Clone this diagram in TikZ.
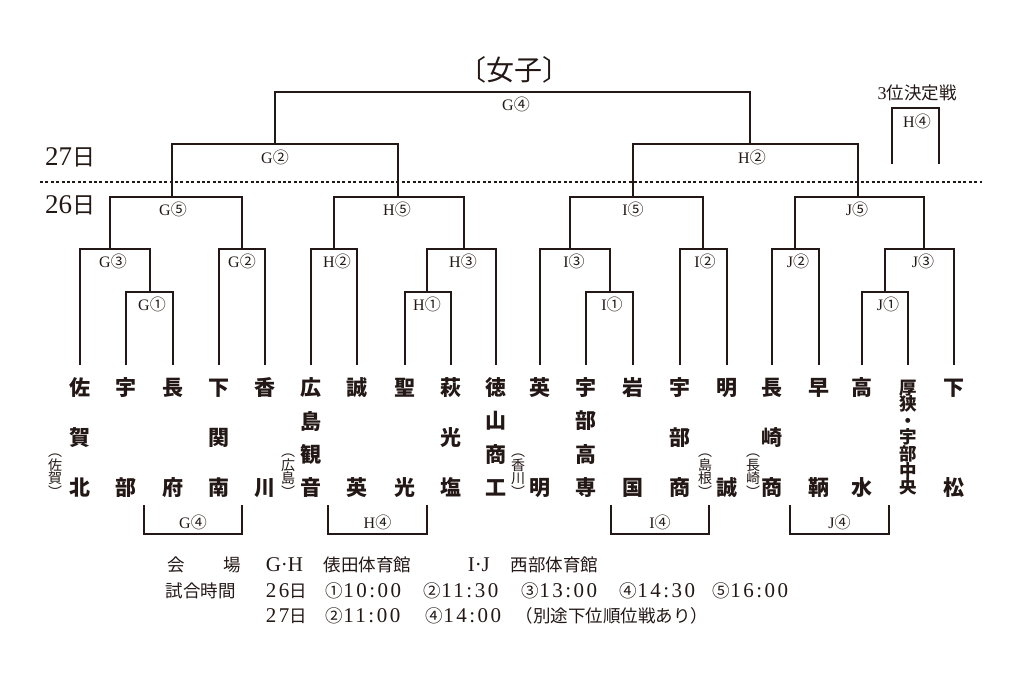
\documentclass[tikz,border=0pt]{standalone}
\usepackage{fontspec}
\setmainfont{Liberation Serif}
\newfontfamily\jp{Noto Sans CJK JP}
\newfontfamily\infofont{Liberation Serif}[LetterSpace=12]
\definecolor{ink}{HTML}{231815}
\newcommand\tchar[1]{\hbox to 24pt{\hss\vrule height 17.6pt depth 2.4pt width 0pt\relax#1\hss}}
\newcommand\schar[1]{\hbox to 20pt{\hss\vrule height 14.5pt depth 1.5pt width 0pt\relax#1\hss}}
\newcommand\achar[1]{\hbox to 16pt{\hss\vrule height 11.8pt depth 1.7pt width 0pt\relax#1\hss}}
\newcommand\cn[1]{{\jp\fontsize{17.5}{17.5}\selectfont #1}}
\newcommand\cl[1]{{\jp #1}}
\begin{document}
\begin{tikzpicture}[x=1pt,y=-1pt,line width=1.5pt,ink,
  every node/.style={inner sep=0pt,text=ink},
  team/.style={anchor=north,font=\jp\bfseries\fontsize{21}{21}\selectfont},
  slim/.style={anchor=north,font=\jp\bfseries\fontsize{17.5}{17.5}\selectfont},
  anno/.style={anchor=north,font=\jp\fontsize{14}{14}\selectfont},
  lbl/.style={font=\fontsize{16}{16}\selectfont},
  info/.style={anchor=base west,font=\infofont\fontsize{21}{21}\selectfont},
  infotight/.style={anchor=base west,font=\rmfamily\fontsize{21}{21}\selectfont},
  day/.style={font=\fontsize{27}{27}\selectfont},
  dotline/.style={line width=1.3pt,dash pattern=on 3pt off 2.4pt}]
\fill[white] (0,0) rectangle (1024,680);
\useasboundingbox (0,0) rectangle (1024,680);

% title
\node (title) at (514,70) {\jp\fontsize{28}{28}\selectfont 〔女子〕};

% days and dotted line
\node[day] (d27) at (70,157) {27{\jp\fontsize{23}{23}\selectfont 日}};
\node[day] (d26) at (70,205) {26{\jp\fontsize{23}{23}\selectfont 日}};
\coordinate (dl) at (40,182);
\coordinate (dr) at (982,182);
\draw[dotline] (dl) -- (dr);

% leaf ends
\coordinate (L1) at (80,365);
\coordinate (L2) at (126,365);
\coordinate (L3) at (173,365);
\coordinate (L4) at (219,365);
\coordinate (L5) at (265,365);
\coordinate (L6) at (311,365);
\coordinate (L7) at (357,365);
\coordinate (L8) at (405,365);
\coordinate (L9) at (451,365);
\coordinate (L10) at (496,365);
\coordinate (L11) at (540,365);
\coordinate (L12) at (586,365);
\coordinate (L13) at (633,365);
\coordinate (L14) at (680,365);
\coordinate (L15) at (727,365);
\coordinate (L16) at (772,365);
\coordinate (L17) at (819,365);
\coordinate (L18) at (862,365);
\coordinate (L19) at (908,365);
\coordinate (L20) at (954,365);

% match junctions
\coordinate (G1) at (150,292);
\coordinate (G3) at (110,249);
\coordinate (G2a) at (242,249);
\coordinate (G5) at (172,197);
\coordinate (H2a) at (334,249);
\coordinate (H1) at (427,292);
\coordinate (H3) at (464,249);
\coordinate (H5) at (398,197);
\coordinate (G2s) at (275,144);
\coordinate (I1) at (610,292);
\coordinate (I3) at (570,249);
\coordinate (I2) at (703,249);
\coordinate (I5) at (633,197);
\coordinate (J2) at (795,249);
\coordinate (J1) at (885,292);
\coordinate (J3) at (924,249);
\coordinate (J5) at (858,197);
\coordinate (H2s) at (750,144);
\coordinate (G4) at (512,92);

\draw (L2) |- (G1) -| (L3);
\draw (L1) |- (G3) -| (G1);
\draw (L4) |- (G2a) -| (L5);
\draw (G3) |- (G5) -| (G2a);
\draw (L6) |- (H2a) -| (L7);
\draw (L8) |- (H1) -| (L9);
\draw (H1) |- (H3) -| (L10);
\draw (H2a) |- (H5) -| (H3);
\draw (G5) |- (G2s) -| (H5);
\draw (L12) |- (I1) -| (L13);
\draw (L11) |- (I3) -| (I1);
\draw (L14) |- (I2) -| (L15);
\draw (I3) |- (I5) -| (I2);
\draw (L16) |- (J2) -| (L17);
\draw (L18) |- (J1) -| (L19);
\draw (J1) |- (J3) -| (L20);
\draw (J2) |- (J5) -| (J3);
\draw (I5) |- (H2s) -| (J5);
\draw (G2s) |- (G4) -| (H2s);

% match labels
\node[lbl] (lG1) at (152,304) {G\cl{①}};
\node[lbl] (lG3) at (113,261) {G\cl{③}};
\node[lbl] (lG2a) at (242,261) {G\cl{②}};
\node[lbl] (lG5) at (173,209) {G\cl{⑤}};
\node[lbl] (lH2a) at (337,261) {H\cl{②}};
\node[lbl] (lH1) at (427,304) {H\cl{①}};
\node[lbl] (lH3) at (463,261) {H\cl{③}};
\node[lbl] (lH5) at (397,209) {H\cl{⑤}};
\node[lbl] (lG2s) at (275,157) {G\cl{②}};
\node[lbl] (lG4) at (516,104) {G\cl{④}};
\node[lbl] (lI1) at (612,304) {I\cl{①}};
\node[lbl] (lI3) at (574,261) {I\cl{③}};
\node[lbl] (lI2) at (705,261) {I\cl{②}};
\node[lbl] (lI5) at (633,209) {I\cl{⑤}};
\node[lbl] (lJ2) at (798,261) {J\cl{②}};
\node[lbl] (lJ1) at (888,304) {J\cl{①}};
\node[lbl] (lJ3) at (923,261) {J\cl{③}};
\node[lbl] (lJ5) at (857,209) {J\cl{⑤}};
\node[lbl] (lH2s) at (752,157) {H\cl{②}};

% third place
\node[lbl] (third) at (917,93) {\fontsize{18}{18}\selectfont 3{\jp\fontsize{17.5}{17.5}\selectfont 位決定戦}};
\coordinate (tpa) at (892,164);
\coordinate (tpm) at (915.5,108);
\coordinate (tpb) at (939,164);
\draw (tpa) |- (tpm) -| (tpb);
\node[lbl] (ltp) at (917,121) {H\cl{④}};

% team names
\node[team] (t1) at (80,377) {\vbox to 118pt{\offinterlineskip\tchar{佐}\vfill\tchar{賀}\vfill\tchar{北}}};
\node[team] (t2) at (126,377) {\vbox to 118pt{\offinterlineskip\tchar{宇}\vfill\tchar{部}}};
\node[team] (t3) at (173,377) {\vbox to 118pt{\offinterlineskip\tchar{長}\vfill\tchar{府}}};
\node[team] (t4) at (219,377) {\vbox to 118pt{\offinterlineskip\tchar{下}\vfill\tchar{関}\vfill\tchar{南}}};
\node[team] (t5) at (265,377) {\vbox to 118pt{\offinterlineskip\tchar{香}\vfill\tchar{川}}};
\node[team] (t6) at (311,377) {\vbox to 118pt{\offinterlineskip\tchar{広}\vfill\tchar{島}\vfill\tchar{観}\vfill\tchar{音}}};
\node[team] (t7) at (357,377) {\vbox to 118pt{\offinterlineskip\tchar{誠}\vfill\tchar{英}}};
\node[team] (t8) at (405,377) {\vbox to 118pt{\offinterlineskip\tchar{聖}\vfill\tchar{光}}};
\node[team] (t9) at (451,377) {\vbox to 118pt{\offinterlineskip\tchar{萩}\vfill\tchar{光}\vfill\tchar{塩}}};
\node[team] (t10) at (496,377) {\vbox to 118pt{\offinterlineskip\tchar{徳}\vfill\tchar{山}\vfill\tchar{商}\vfill\tchar{工}}};
\node[team] (t11) at (540,377) {\vbox to 118pt{\offinterlineskip\tchar{英}\vfill\tchar{明}}};
\node[team] (t12) at (586,377) {\vbox to 118pt{\offinterlineskip\tchar{宇}\vfill\tchar{部}\vfill\tchar{高}\vfill\tchar{専}}};
\node[team] (t13) at (633,377) {\vbox to 118pt{\offinterlineskip\tchar{岩}\vfill\tchar{国}}};
\node[team] (t14) at (680,377) {\vbox to 118pt{\offinterlineskip\tchar{宇}\vfill\tchar{部}\vfill\tchar{商}}};
\node[team] (t15) at (727,377) {\vbox to 118pt{\offinterlineskip\tchar{明}\vfill\tchar{誠}}};
\node[team] (t16) at (772,377) {\vbox to 118pt{\offinterlineskip\tchar{長}\vfill\tchar{崎}\vfill\tchar{商}}};
\node[team] (t17) at (819,377) {\vbox to 118pt{\offinterlineskip\tchar{早}\vfill\tchar{鞆}}};
\node[team] (t18) at (862,377) {\vbox to 118pt{\offinterlineskip\tchar{高}\vfill\tchar{水}}};
\node[slim] (t19) at (908,379) {\vbox to 114pt{\offinterlineskip\schar{厚}\vfill\schar{狭}\vfill\schar{・}\vfill\schar{宇}\vfill\schar{部}\vfill\schar{中}\vfill\schar{央}}};
\node[team] (t20) at (954,377) {\vbox to 118pt{\offinterlineskip\tchar{下}\vfill\tchar{松}}};

% prefecture notes
\node[anno] (a1) at (55,444) {\vbox{\offinterlineskip\achar{︵}\achar{佐}\achar{賀}\achar{︶}}};
\node[anno] (a2) at (288,444) {\vbox{\offinterlineskip\achar{︵}\achar{広}\achar{島}\achar{︶}}};
\node[anno] (a3) at (518,444) {\vbox{\offinterlineskip\achar{︵}\achar{香}\achar{川}\achar{︶}}};
\node[anno] (a4) at (705,444) {\vbox{\offinterlineskip\achar{︵}\achar{島}\achar{根}\achar{︶}}};
\node[anno] (a5) at (753,444) {\vbox{\offinterlineskip\achar{︵}\achar{長}\achar{崎}\achar{︶}}};

% lower brackets
\coordinate (g4a) at (144,505);
\coordinate (g4m) at (193,534);
\coordinate (g4b) at (242,505);
\draw (g4a) |- (g4m) -| (g4b);
\node[lbl] (lg4) at (193,522) {G\cl{④}};
\coordinate (h4a) at (328,505);
\coordinate (h4m) at (377.5,534);
\coordinate (h4b) at (427,505);
\draw (h4a) |- (h4m) -| (h4b);
\node[lbl] (lh4) at (377.5,522) {H\cl{④}};
\coordinate (i4a) at (611,505);
\coordinate (i4m) at (660,534);
\coordinate (i4b) at (709,505);
\draw (i4a) |- (i4m) -| (i4b);
\node[lbl] (li4) at (660,522) {I\cl{④}};
\coordinate (j4a) at (790,505);
\coordinate (j4m) at (839.5,534);
\coordinate (j4b) at (889,505);
\draw (j4a) |- (j4m) -| (j4b);
\node[lbl] (lj4) at (839.5,522) {J\cl{④}};

% information
\node[info] (n1) at (167,571) {\cn{会}};
\node[info] (n2) at (223,571) {\cn{場}};
\node[infotight] (n3) at (265,571) {G·H};
\node[info] (n4) at (323,571) {\cn{俵田体育館}};
\node[infotight] (n5) at (467,571) {I·J};
\node[info] (n6) at (510,571) {\cn{西部体育館}};
\node[info] (n7) at (165,597) {\cn{試合時間}};
\node[info] (n8) at (265,597) {26\cn{日}};
\node[info] (n9) at (325,597) {\cn{①}10:00};
\node[info] (n10) at (423,597) {\cn{②}11:30};
\node[info] (n11) at (521,597) {\cn{③}13:00};
\node[info] (n12) at (619,597) {\cn{④}14:30};
\node[info] (n13) at (712,597) {\cn{⑤}16:00};
\node[info] (n14) at (265,622) {27\cn{日}};
\node[info] (n15) at (325,622) {\cn{②}11:00};
\node[info] (n16) at (425,622) {\cn{④}14:00};
\node[info] (n17) at (515,622) {\cn{（別途下位順位戦あり）}};
\end{tikzpicture}
\end{document}
